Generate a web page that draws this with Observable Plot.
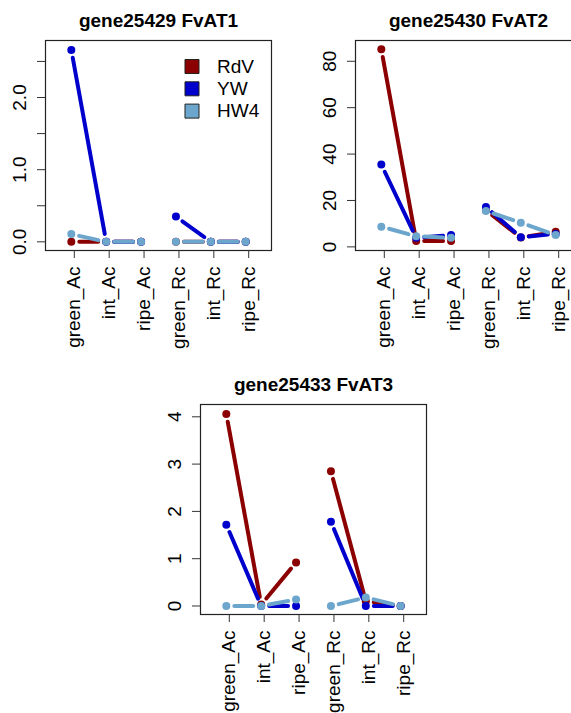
<!DOCTYPE html>
<html>
<head>
<meta charset="utf-8">
<script src="https://cdn.jsdelivr.net/npm/d3@7"></script>
<script src="https://cdn.jsdelivr.net/npm/@observablehq/plot@0.6"></script>
<style>
  html, body { margin: 0; padding: 0; background: #fff; overflow: hidden; }
  #wrap { position: relative; width: 571px; height: 713px; overflow: hidden; }
  .panel { position: absolute; width: 281px; height: 354px; }
  .panel svg { max-width: none !important; }
</style>
</head>
<body>
<div id="wrap">
  <div class="panel" id="p1" style="left:0px;top:0px"></div>
  <div class="panel" id="p2" style="left:310px;top:0px"></div>
  <div class="panel" id="p3" style="left:155px;top:364px"></div>
</div>
<script>
// ---- data ----
const categories = ["green_Ac", "int_Ac", "ripe_Ac", "green_Rc", "int_Rc", "ripe_Rc"];
const groups = [[0, 1, 2], [3, 4, 5]];
const series = ["RdV", "YW", "HW4"];
const colors = ["#8B0000", "#0000CD", "#6CA6CD"];
const titles = ["gene25429 FvAT1", "gene25430 FvAT2", "gene25433 FvAT3"];

const fvat1_RdV = [0, 0, 0, 0, 0, 0];
const fvat1_YW  = [2.66, 0, 0, 0.35, 0, 0];
const fvat1_HW4 = [0.107, 0, 0, 0, 0, 0];

const fvat2_RdV = [85.2, 2.5, 2.5, 15.8, 4.0, 6.5];
const fvat2_YW  = [35.5, 3.9, 5.1, 17.2, 4.2, 5.6];
const fvat2_HW4 = [8.7, 4.6, 3.9, 15.5, 10.4, 5.1];

const fvat3_RdV = [4.06, 0.03, 0.92, 2.85, 0.1, 0];
const fvat3_YW  = [1.72, 0, 0, 1.78, 0, 0];
const fvat3_HW4 = [0, 0, 0.135, 0, 0.18, 0];

const ticks1 = [0, 0.5, 1, 1.5, 2, 2.5];
const ticks2 = [0, 20, 40, 60, 80];
const ticks3 = [0, 1, 2, 3, 4];

// ---- drawing ----
const FONT = "'Liberation Sans', Arial, Helvetica, sans-serif";

function panel({title, values, yDomain, yTicks, yFormat, legend}) {
  const marks = [];
  marks.push(Plot.frame({stroke: "#222", strokeWidth: 1.2}));
  marks.push(Plot.axisX({
    ticks: categories.map((_, i) => i + 1),
    tickFormat: d => categories[d - 1],
    tickRotate: -90, tickSize: 8, tickPadding: 8, fontSize: 19, label: null, dx: 3, stroke: "#333"
  }));
  marks.push(Plot.axisY({
    ticks: yTicks, tickFormat: yFormat,
    tickRotate: -90, tickSize: 8, tickPadding: 12, fontSize: 19, label: null, stroke: "#333"
  }));
  values.forEach((vals, s) => {
    const segs = [];
    for (const g of groups) {
      for (let k = 0; k < g.length - 1; k++) {
        const a = g[k], b = g[k + 1];
        segs.push({x1: a + 1, y1: vals[a], x2: b + 1, y2: vals[b]});
      }
    }
    const pts = vals.map((v, i) => ({x: i + 1, y: v}));
    marks.push(Plot.arrow(segs, {
      x1: "x1", y1: "y1", x2: "x2", y2: "y2",
      stroke: colors[s], strokeWidth: 4, headLength: 0, inset: 8, bend: 0
    }));
    marks.push(Plot.dot(pts, {x: "x", y: "y", r: 4, fill: colors[s], stroke: "none"}));
  });
  marks.push(Plot.text([title], {
    text: d => d, frameAnchor: "top", dy: -14, lineAnchor: "bottom",
    fontWeight: "bold", fontSize: 19, fill: "#000"
  }));
  if (legend) {
    series.forEach((name, i) => {
      marks.push(Plot.dot([name], {
        frameAnchor: "top-right", dx: -79.5, dy: 26 + i * 22.3,
        symbol: "square", r: 7.9, fill: colors[i], stroke: "#222", strokeWidth: 1
      }));
      marks.push(Plot.text([name], {
        text: d => d, frameAnchor: "top-right", dx: -54.5, dy: 26 + i * 22.3,
        textAnchor: "start", lineAnchor: "middle", fontSize: 19, fill: "#000"
      }));
    });
  }
  return Plot.plot({
    width: 281, height: 354,
    marginLeft: 45, marginTop: 40, marginRight: 10, marginBottom: 104,
    style: {fontFamily: FONT, color: "#000", background: "white", overflow: "visible", maxWidth: "none"},
    x: {type: "linear", domain: [0.26, 6.74]},
    y: {type: "linear", domain: yDomain},
    marks
  });
}

document.getElementById("p1").append(panel({
  title: titles[0], values: [fvat1_RdV, fvat1_YW, fvat1_HW4],
  yDomain: [-0.12, 2.79], yTicks: ticks1,
  yFormat: d => (Math.abs(d % 1) < 1e-9 ? d.toFixed(1) : ""), legend: true
}));
document.getElementById("p2").append(panel({
  title: titles[1], values: [fvat2_RdV, fvat2_YW, fvat2_HW4],
  yDomain: [-1.56, 88.95], yTicks: ticks2, yFormat: d => String(d), legend: false
}));
document.getElementById("p3").append(panel({
  title: titles[2], values: [fvat3_RdV, fvat3_YW, fvat3_HW4],
  yDomain: [-0.18, 4.26], yTicks: ticks3, yFormat: d => String(d), legend: false
}));
</script>
</body>
</html>
